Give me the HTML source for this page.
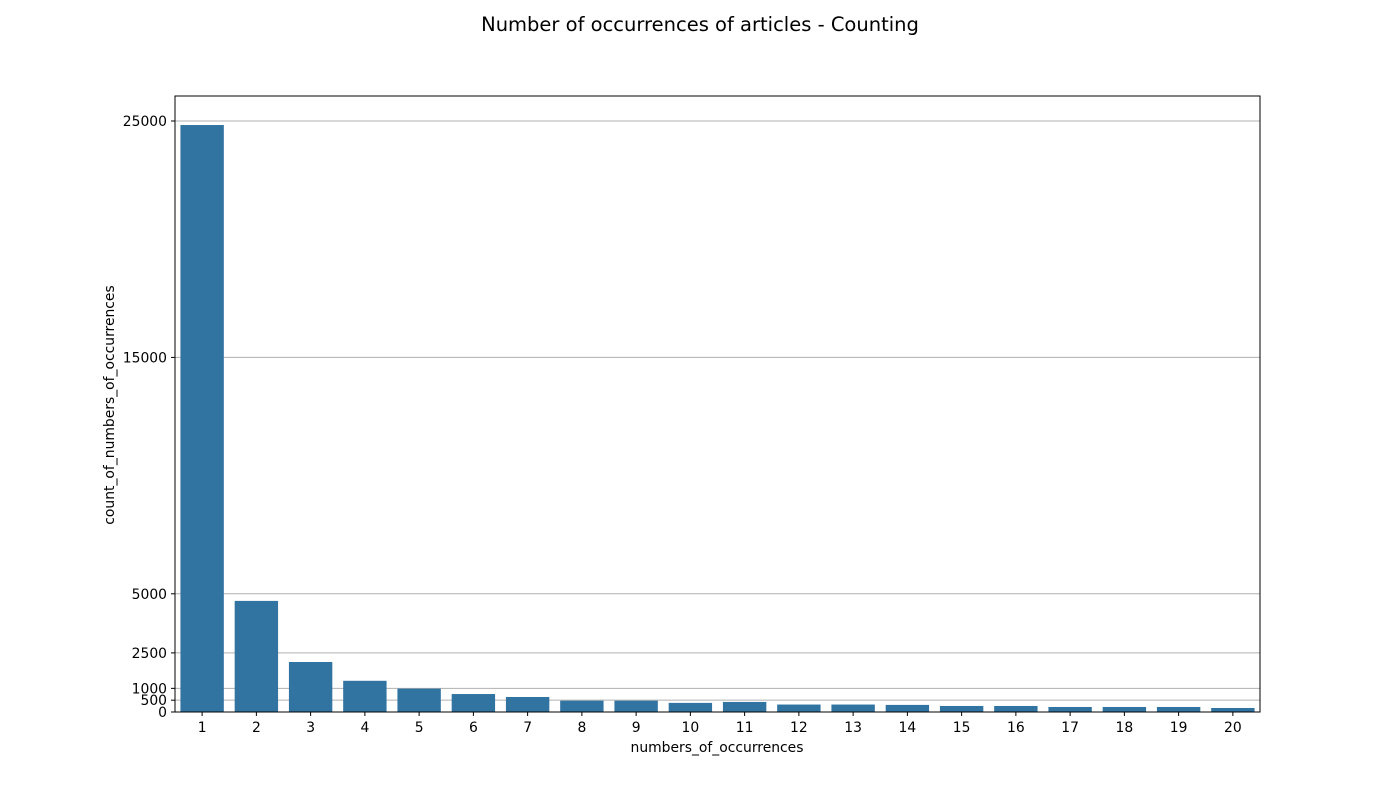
<!DOCTYPE html>
<html><head><meta charset="utf-8"><style>
body{margin:0;background:#fff;}
svg text{font-family:"DejaVu Sans","Liberation Sans",sans-serif;}
</style></head><body>
<svg id="chart" width="1400" height="800" xmlns="http://www.w3.org/2000/svg">
<rect width="1400" height="800" fill="#fff"/>
<text x="700" y="31" text-anchor="middle" font-size="19.5">Number of occurrences of articles - Counting</text>
<g id="grid"></g><g id="bars"></g><g id="axes"></g>
<text x="717" y="752" text-anchor="middle" font-size="13.9">numbers_of_occurrences</text>
<text transform="translate(114,405) rotate(-90)" text-anchor="middle" font-size="13.9">count_of_numbers_of_occurrences</text>
</svg>
<script>
const categories=["1","2","3","4","5","6","7","8","9","10","11","12","13","14","15","16","17","18","19","20"];
const counts=[24830,4700,2115,1320,990,760,635,480,480,385,425,315,315,300,255,255,212,212,212,170];
const yTicks=[0,500,1000,2500,5000,15000,25000];
const L=175,R=1260,T=96,B=712;
const NS="http://www.w3.org/2000/svg";
const svg=document.getElementById('chart');
const y=v=>B-v*(591/25000);
const step=(R-L)/categories.length;
const x=i=>L+step*i+step/2;
function mk(tag,attrs,parent){const e=document.createElementNS(NS,tag);for(const k in attrs)e.setAttribute(k,attrs[k]);parent.appendChild(e);return e;}
const grid=document.getElementById('grid'),bars=document.getElementById('bars'),axes=document.getElementById('axes');
yTicks.forEach(t=>{
  const g=mk('line',{x1:L,x2:R,y1:y(t),y2:y(t),stroke:'#b0b0b0','stroke-width':1},grid);
  
  
  mk('line',{x1:L-4,x2:L,y1:y(t),y2:y(t),stroke:'#000'},axes);
  const tx=mk('text',{x:L-8,y:y(t)+5,'text-anchor':'end','font-size':13.9},axes);
  tx.textContent=t;
  
  
});
counts.forEach((v,i)=>{
  const w=step*0.8;
  const r=mk('rect',{x:x(i)-w/2,y:y(v),width:w,height:B-y(v),fill:'#3274a1'},bars);
  
  
  mk('line',{x1:x(i),x2:x(i),y1:B,y2:B+4,stroke:'#000'},axes);
  const tx=mk('text',{x:x(i),y:B+20,'text-anchor':'middle','font-size':13.9},axes);
  tx.textContent=categories[i];
  
  
});
const f=mk('rect',{x:L,y:T,width:R-L,height:B-T,fill:'none',stroke:'#000','stroke-width':1},axes);


</script>
</body></html>
